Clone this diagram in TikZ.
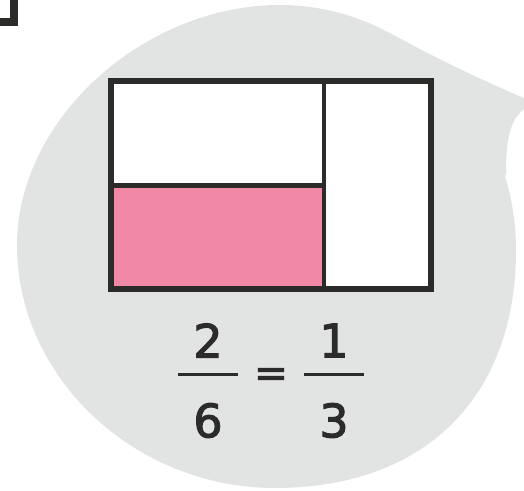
\documentclass[tikz,border=0pt]{standalone}
\usepackage{fontspec}
\setmainfont{DejaVu Sans}
\newfontfamily\digitfont[FakeBold=2.5]{DejaVu Sans}
\begin{document}
\begin{tikzpicture}[x=1pt,y=-1pt,
  digit/.style={inner sep=0pt,text=ink,font=\digitfont\fontsize{46}{50}\selectfont},
  bar/.style={draw=ink,line width=3pt}]
\definecolor{bubble}{HTML}{E2E3E3}
\definecolor{ink}{HTML}{2B2B29}
\definecolor{pinkfill}{HTML}{F088A6}
\useasboundingbox (0,0) rectangle (524,490);
\clip (0,0) rectangle (524,490);
% corner of box at top left
\draw[ink,line width=8pt,line join=miter] (14,-10) -- (14,22) -- (-10,22);
% speech bubble: body
\fill[bubble] (280,5) .. controls (410,5) and (516,115) .. (516,250)
  .. controls (516,398) and (424,488) .. (275,488)
  .. controls (136,488) and (17,379) .. (17,245)
  .. controls (17,120) and (143,5) .. (280,5) -- cycle;
% speech bubble: tail
\fill[bubble] (388,32) .. controls (428,54) and (480,80) .. (536,103)
  .. controls (512,112) and (506,130) .. (506,175) -- (430,200) -- cycle;
% fraction rectangle
\fill[white] (111,81) rectangle (431,289);
\fill[pinkfill] (111,185.5) rectangle (324,289);
\draw[ink,line width=3.5pt] (324,81) -- (324,289);
\draw[ink,line width=5pt] (111,185.5) -- (324,185.5);
\draw[ink,line width=6pt] (111,81) rectangle (431,289);
% fractions
\node[digit] (n2) at (208,340.5) {2};
\node[digit] (n6) at (208,420.5) {6};
\node[digit] (n1) at (334,340.5) {1};
\node[digit] (n3) at (334,420.5) {3};
\node[digit,font=\digitfont\fontsize{40}{44}\selectfont] (eq) at (271,377.5) {=};
\coordinate (b1l) at (178,374); \coordinate (b1r) at (238,374);
\coordinate (b2l) at (304,374); \coordinate (b2r) at (364,374);
\draw[bar] (b1l) -- (b1r);
\draw[bar] (b2l) -- (b2r);
\end{tikzpicture}
\end{document}
